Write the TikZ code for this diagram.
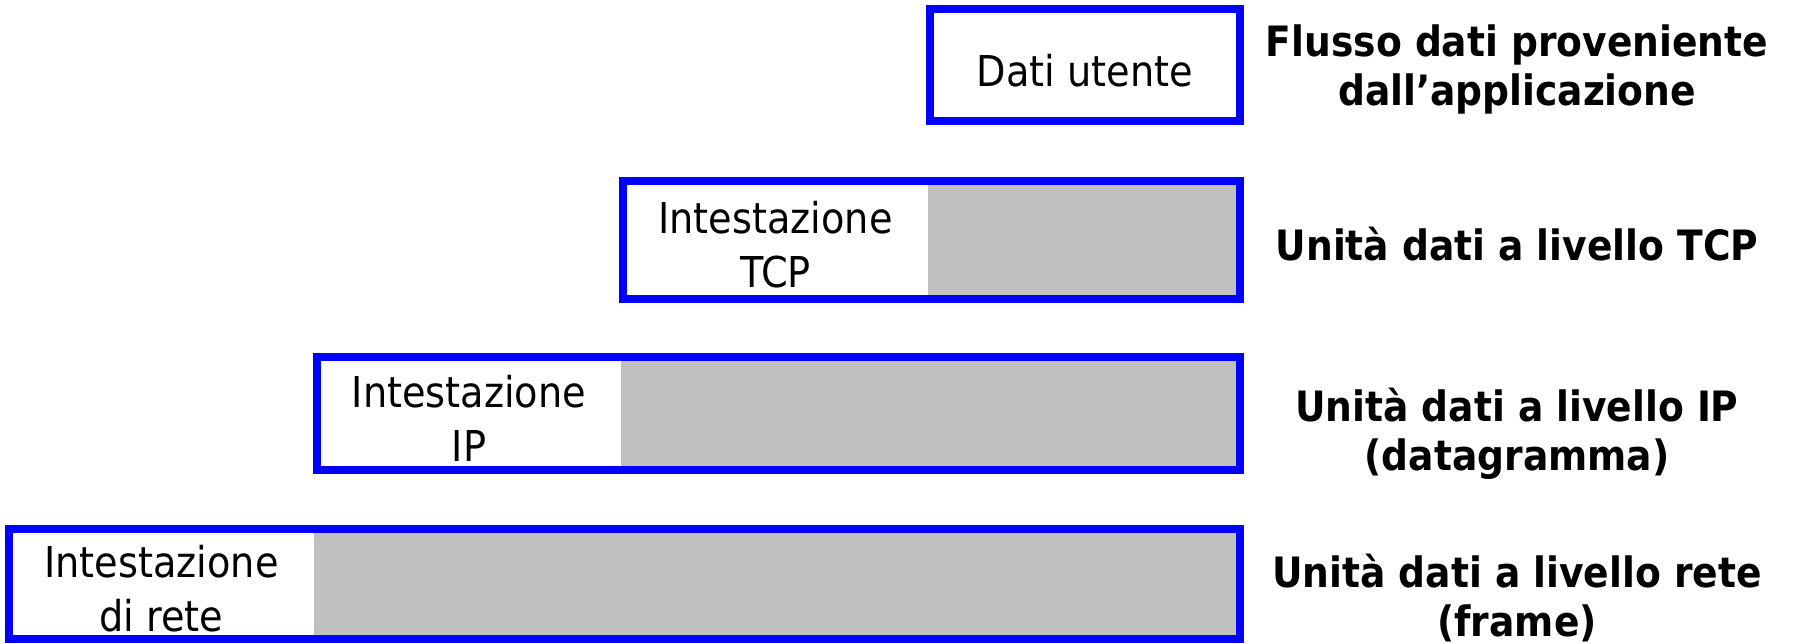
\documentclass[tikz,border=0pt]{standalone}
\usepackage{fontspec}
\setmainfont{DejaVu Sans Condensed}
\definecolor{pdublue}{RGB}{0,0,255}
\definecolor{pdugray}{RGB}{192,192,192}
\begin{document}
\begin{tikzpicture}[x=1pt,y=-1pt,
  seg/.style={inner sep=0pt,outer sep=0pt,anchor=north west},
  hdr/.style={seg,fill=white},
  payload/.style={seg,fill=pdugray},
  frame/.style={draw=pdublue,line width=8pt},
  boxtext/.style={inner sep=0pt,align=center,font=\fontsize{42.5}{54}\selectfont},
  lbl/.style={align=center,font=\fontsize{41.8}{49}\selectfont\bfseries}]
\useasboundingbox (0,0) rectangle (1796,644);

% application data
\node[hdr,minimum width=310pt,minimum height=112pt] (app) at (930,9) {};
\draw[frame] (app.north west) rectangle (app.south east);
\node[boxtext] (tapp) at ([yshift=-6pt]app.center) {Dati utente};

% TCP segment
\node[hdr,minimum width=305pt,minimum height=118pt] (tcph) at (623,181) {};
\node[payload,minimum width=312pt,minimum height=118pt] (tcpd) at (tcph.north east) {};
\draw[frame] (tcph.north west) rectangle (tcpd.south east);
\node[boxtext] (ttcp) at ([yshift=-5pt]tcph.center) {Intestazione\\TCP};

% IP datagram
\node[hdr,minimum width=304pt,minimum height=113pt] (iph) at (317,357) {};
\node[payload,minimum width=619pt,minimum height=113pt] (ipd) at (iph.north east) {};
\draw[frame] (iph.north west) rectangle (ipd.south east);
\node[boxtext] (tip) at ([yshift=-5pt]iph.center) {Intestazione\\IP};

% link-layer frame
\node[hdr,minimum width=305pt,minimum height=110pt] (neth) at (9,529) {};
\node[payload,minimum width=926pt,minimum height=110pt] (netd) at (neth.north east) {};
\draw[frame] (neth.north west) rectangle (netd.south east);
\node[boxtext] (tnet) at ([yshift=-5pt]neth.center) {Intestazione\\di rete};

% layer names
\node[lbl] (lapp) at (1517,69) {Flusso dati proveniente\\dall’applicazione};
\node[lbl] (ltcp) at (1517,244) {Unità dati a livello TCP};
\node[lbl] (lip) at (1517,434) {Unità dati a livello IP\\(datagramma)};
\node[lbl] (lnet) at (1517,598) {Unità dati a livello rete\\(frame)};
\end{tikzpicture}
\end{document}
